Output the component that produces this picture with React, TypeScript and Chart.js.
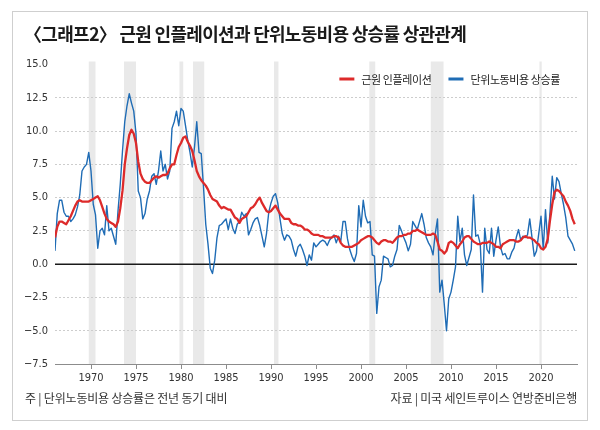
import React, { useEffect, useRef } from 'react';
import { Chart, registerables } from 'chart.js';
import type { Plugin } from 'chart.js';

Chart.register(...registerables);

// quarterly series, first value = 1966 Q1
const START_YEAR = 1966;

// 근원 인플레이션 (%)
const coreInflation = [
  2.0, 2.8, 3.2, 3.2, // 1966
  3.1, 3.0, 3.3, 3.6,
  4.0, 4.4, 4.7, 4.8,
  4.7, 4.7, 4.7, 4.7,
  4.8, 4.9, 5.0, 5.1, // 1970
  4.8, 4.3, 3.8, 3.4,
  3.2, 3.1, 3.0, 2.8,
  3.2, 4.2, 5.5, 7.5,
  8.7, 9.7, 10.1, 9.8,
  9.1, 7.7, 6.8, 6.4, // 1975
  6.2, 6.1, 6.1, 6.3,
  6.5, 6.6, 6.5, 6.6,
  6.7, 6.7, 6.8, 7.2,
  7.5, 7.5, 8.2, 8.8,
  9.1, 9.5, 9.6, 9.2, // 1980
  8.9, 8.5, 7.8, 7.0,
  6.6, 6.3, 6.1, 5.9,
  5.6, 5.2, 4.9, 4.8,
  4.7, 4.4, 4.2, 4.3,
  4.2, 4.1, 4.1, 3.8, // 1985
  3.5, 3.4, 3.1, 3.4,
  3.5, 3.6, 3.9, 4.2,
  4.3, 4.5, 4.8, 5.0,
  4.6, 4.3, 4.0, 3.9,
  4.0, 4.2, 4.4, 4.1, // 1990
  3.8, 3.6, 3.4, 3.4,
  3.4, 3.1, 3.0, 3.0,
  2.9, 2.9, 2.8, 2.6,
  2.6, 2.5, 2.3, 2.2,
  2.2, 2.2, 2.1, 2.1, // 1995
  2.0, 2.0, 2.0, 2.0,
  2.1, 2.1, 2.0, 1.6,
  1.4, 1.3, 1.3, 1.3,
  1.3, 1.4, 1.5, 1.6,
  1.8, 1.9, 2.0, 2.1, // 2000
  2.1, 2.0, 1.8, 1.6,
  1.5, 1.7, 1.8, 1.8,
  1.7, 1.7, 1.6, 1.8,
  2.0, 2.1, 2.1, 2.2,
  2.2, 2.3, 2.3, 2.5, // 2005
  2.5, 2.6, 2.5, 2.4,
  2.3, 2.2, 2.2, 2.2,
  2.3, 2.2, 1.7, 1.1,
  1.0, 0.8, 1.0, 1.6,
  1.7, 1.6, 1.4, 1.2, // 2010
  1.5, 1.7, 2.0, 2.1,
  2.1, 1.9, 1.7, 1.6,
  1.5, 1.5, 1.6, 1.6,
  1.6, 1.7, 1.6, 1.5,
  1.3, 1.3, 1.2, 1.5, // 2015
  1.6, 1.7, 1.8, 1.8,
  1.8, 1.7, 1.7, 1.8,
  2.0, 2.1, 2.0, 2.0,
  1.9, 1.8, 1.6, 1.5,
  1.2, 1.1, 1.3, 1.9, // 2020
  3.3, 4.5, 5.4, 5.6,
  5.5, 5.3, 5.1, 4.7,
  4.4, 4.0, 3.4, 3.0,
];

// 단위노동비용 상승률 (%, 전년 동기 대비)
const laborCostGrowth = [
  1.0, 3.8, 4.8, 4.8, // 1966
  3.9, 3.6, 3.6, 3.2,
  3.4, 3.7, 4.3, 5.2,
  7.0, 7.3, 7.5, 8.4,
  7.0, 4.5, 3.7, 1.2, // 1970
  2.5, 2.7, 2.2, 4.4,
  2.5, 2.7, 2.1, 1.5,
  4.0, 6.0, 8.5, 10.7,
  11.9, 12.8, 12.1, 11.5,
  9.8, 5.5, 5.0, 3.4, // 1975
  3.8, 4.9, 5.5, 6.6,
  6.8, 6.0, 7.0, 8.5,
  7.0, 7.5, 6.4, 7.0,
  10.2, 10.7, 11.5, 10.4,
  11.7, 11.5, 10.4, 9.3, // 1980
  8.4, 7.3, 8.8, 10.7,
  8.4, 8.3, 5.8, 3.0,
  1.5, -0.3, -0.7, 0.3,
  2.0, 2.9, 3.0, 3.2,
  3.4, 2.6, 3.4, 2.7, // 1985
  2.3, 3.0, 3.2, 3.9,
  3.6, 3.8, 2.2, 2.6,
  3.1, 3.4, 3.5, 2.9,
  2.1, 1.3, 2.3, 3.9,
  4.6, 5.1, 5.3, 4.6, // 1990
  3.4, 2.3, 1.8, 2.2,
  2.1, 1.8, 1.1, 0.6,
  1.3, 1.5, 1.1, 0.6,
  -0.1, 0.7, 0.3, 1.6,
  1.3, 1.5, 1.7, 1.8, // 1995
  1.7, 1.4, 1.8, 2.0,
  2.2, 1.6, 2.1, 1.7,
  3.2, 3.2, 1.9, 1.1,
  0.6, 0.2, 0.8, 4.4,
  2.8, 4.8, 3.6, 3.1, // 2000
  3.2, 0.7, 0.6, -3.7,
  -1.7, -1.2, 0.6, 0.5,
  0.4, -0.2, -0.1, 0.6,
  1.1, 2.9, 2.5, 2.0,
  1.6, 1.0, 1.5, 3.2, // 2005
  2.9, 2.6, 3.2, 3.8,
  3.0, 2.0, 1.6, 1.3,
  0.7, 2.3, 3.4, -2.1,
  -1.2, -3.0, -5.0, -2.6,
  -2.1, -1.2, -0.2, 3.6, // 2010
  1.7, 2.7, 0.7, -0.1,
  0.5, 1.1, 5.2, 2.1,
  2.2, 1.5, -2.1, 2.7,
  1.1, 0.8, 2.7, 0.6,
  1.8, 2.8, 1.3, 0.7, // 2015
  0.8, 0.4, 0.4, 0.9,
  1.2, 2.0, 2.6, 1.8,
  2.1, 2.0, 2.2, 3.4,
  2.0, 0.6, 1.0, 2.3,
  3.6, 1.1, 4.1, 1.6, // 2020
  3.9, 6.6, 4.9, 6.5,
  6.2, 5.3, 4.5, 3.5,
  2.1, 1.8, 1.5, 1.0,
];

const xTickYears = [1970, 1975, 1980, 1985, 1990, 1995, 2000, 2005, 2010, 2015, 2020];

// shaded recession periods (decimal years)
const recessionStarts = [1969.75, 1973.67, 1979.83, 1981.33, 1990.33, 2000.92, 2007.75, 2019.83];
const recessionEnds = [1970.5, 1975.0, 1980.25, 1982.58, 1990.83, 2001.58, 2009.17, 2020.08];

const RED = '#dd2a2a';
const BLUE = '#1f6cb5';
const KR_FONT = "'Noto Sans CJK KR', 'Noto Sans', sans-serif";
const NUM_FONT = "'Liberation Sans Narrow', 'DejaVu Sans Condensed', 'Noto Sans', sans-serif";

const toPoints = (values: number[]) => values.map((y, i) => ({ x: START_YEAR + i / 4, y }));

const formatTick = (v: number) => v.toFixed(1).replace('-', '\u2212');

const decorPlugin: Plugin<'line'> = {
  id: 'decor',
  beforeDraw(chart) {
    const { ctx, chartArea, scales } = chart;
    ctx.save();
    ctx.fillStyle = '#e9e9e9';
    recessionStarts.forEach((start, i) => {
      const left = scales.x.getPixelForValue(start);
      const right = scales.x.getPixelForValue(recessionEnds[i]);
      ctx.fillRect(left, chartArea.top - 3, right - left, chartArea.bottom - chartArea.top + 3);
    });
    ctx.restore();
  },
  beforeDatasetsDraw(chart) {
    const { ctx, chartArea, scales } = chart;
    const y0 = scales.y.getPixelForValue(0);
    ctx.save();
    ctx.strokeStyle = '#1a1a1a';
    ctx.lineWidth = 1.5;
    ctx.beginPath();
    ctx.moveTo(chartArea.left, y0);
    ctx.lineTo(chartArea.right, y0);
    ctx.stroke();
    ctx.restore();
  },
  afterDraw(chart) {
    // legend, top right inside the plot
    const { ctx, chartArea } = chart;
    const items = chart.data.datasets.map((ds) => ({
      label: String(ds.label),
      color: String(ds.borderColor),
    }));
    ctx.save();
    ctx.font = `11px ${KR_FONT}`;
    (ctx as any).letterSpacing = '-0.4px';
    ctx.textBaseline = 'middle';
    ctx.fillStyle = '#222';
    const lineLen = 15;
    const gapLine = 7;
    const gapItem = 17;
    const widths = items.map((it) => ctx.measureText(it.label).width);
    let total = 0;
    widths.forEach((w, i) => { total += lineLen + gapLine + w + (i > 0 ? gapItem : 0); });
    let x = chartArea.right - 17 - total;
    const y = chartArea.top + 14.5;
    items.forEach((it, i) => {
      ctx.strokeStyle = it.color;
      ctx.lineWidth = 3;
      ctx.beginPath();
      ctx.moveTo(x, y);
      ctx.lineTo(x + lineLen, y);
      ctx.stroke();
      x += lineLen + gapLine;
      ctx.fillText(it.label, x, y + 0.5);
      x += widths[i] + gapItem;
    });
    ctx.restore();
  },
};

const LineChart = () => {
  const canvasRef = useRef<HTMLCanvasElement>(null);

  useEffect(() => {
    if (!canvasRef.current) return () => { /* nothing */ };
    const chart = new Chart(canvasRef.current, {
      type: 'line',
      data: {
        datasets: [{
          label: '근원 인플레이션',
          data: toPoints(coreInflation),
          borderColor: RED,
          borderWidth: 2.3,
        }, {
          label: '단위노동비용 상승률',
          data: toPoints(laborCostGrowth),
          borderColor: BLUE,
          borderWidth: 1.4,
        }],
      },
      options: {
        responsive: false,
        animation: false,
        layout: { padding: { top: 64.5, right: 23, bottom: 0, left: 0 } },
        elements: {
          point: { radius: 0 },
          line: { tension: 0, borderJoinStyle: 'round' },
        },
        plugins: {
          legend: { display: false },
          tooltip: { enabled: false },
        },
        scales: {
          x: {
            type: 'linear',
            min: 1966,
            max: 2024,
            afterBuildTicks(scale) {
              scale.ticks = xTickYears.map((value) => ({ value }));
            },
            afterFit(scale) {
              scale.height = 66;
            },
            ticks: {
              autoSkip: false,
              maxRotation: 0,
              padding: 3,
              color: '#333',
              font: { family: NUM_FONT, size: 11 },
              callback: (v) => String(v),
            },
            grid: {
              drawOnChartArea: false,
              drawTicks: true,
              tickLength: 5,
              tickColor: '#8c8c8c',
              tickWidth: 1,
            },
            border: { display: true, color: '#8c8c8c', width: 1 },
          },
          y: {
            min: -7.5,
            max: 15,
            afterFit(scale) {
              scale.width = 55;
            },
            ticks: {
              stepSize: 2.5,
              padding: 7,
              color: '#333',
              font: { family: NUM_FONT, size: 11 },
              callback: (v) => formatTick(Number(v)),
            },
            grid: {
              drawTicks: false,
              lineWidth: 1,
              color: (c) => {
                const v = c.tick ? c.tick.value : 0;
                return v === 0 || v === 15 || v === -7.5 ? 'rgba(0,0,0,0)' : '#cdcdcd';
              },
            },
            border: { display: false, dash: [2, 2] },
          },
        },
      },
      plugins: [decorPlugin],
    });
    return () => {
      chart.destroy();
    };
  }, []);

  return <canvas ref={canvasRef} width={600} height={430} />;
};

export default function App() {
  return (
    <div style={{ position: 'absolute', left: 0, top: 0, width: 600, height: 430, background: '#fff' }}>
      <LineChart />
      <div
        style={{
          position: 'absolute', left: 12, top: 11, width: 574, height: 408,
          border: '1px solid #cfcfcf', pointerEvents: 'none',
        }}
      />
      <div
        style={{
          position: 'absolute', left: 24, top: 21, fontFamily: KR_FONT, fontWeight: 700,
          fontSize: 18, lineHeight: '24px', letterSpacing: '-0.7px', color: '#1a1a1a', whiteSpace: 'nowrap',
        }}
      >
        〈그래프2〉 근원 인플레이션과 단위노동비용 상승률 상관관계
      </div>
      <div
        style={{
          position: 'absolute', left: 25, top: 390, fontFamily: KR_FONT, fontSize: 12,
          lineHeight: '16px', letterSpacing: '-0.2px', color: '#333', whiteSpace: 'nowrap',
        }}
      >
        주 | 단위노동비용 상승률은 전년 동기 대비
      </div>
      <div
        style={{
          position: 'absolute', right: 23, top: 390, fontFamily: KR_FONT, fontSize: 12,
          lineHeight: '16px', letterSpacing: '-0.2px', color: '#333', whiteSpace: 'nowrap',
        }}
      >
        자료 | 미국 세인트루이스 연방준비은행
      </div>
    </div>
  );
}
